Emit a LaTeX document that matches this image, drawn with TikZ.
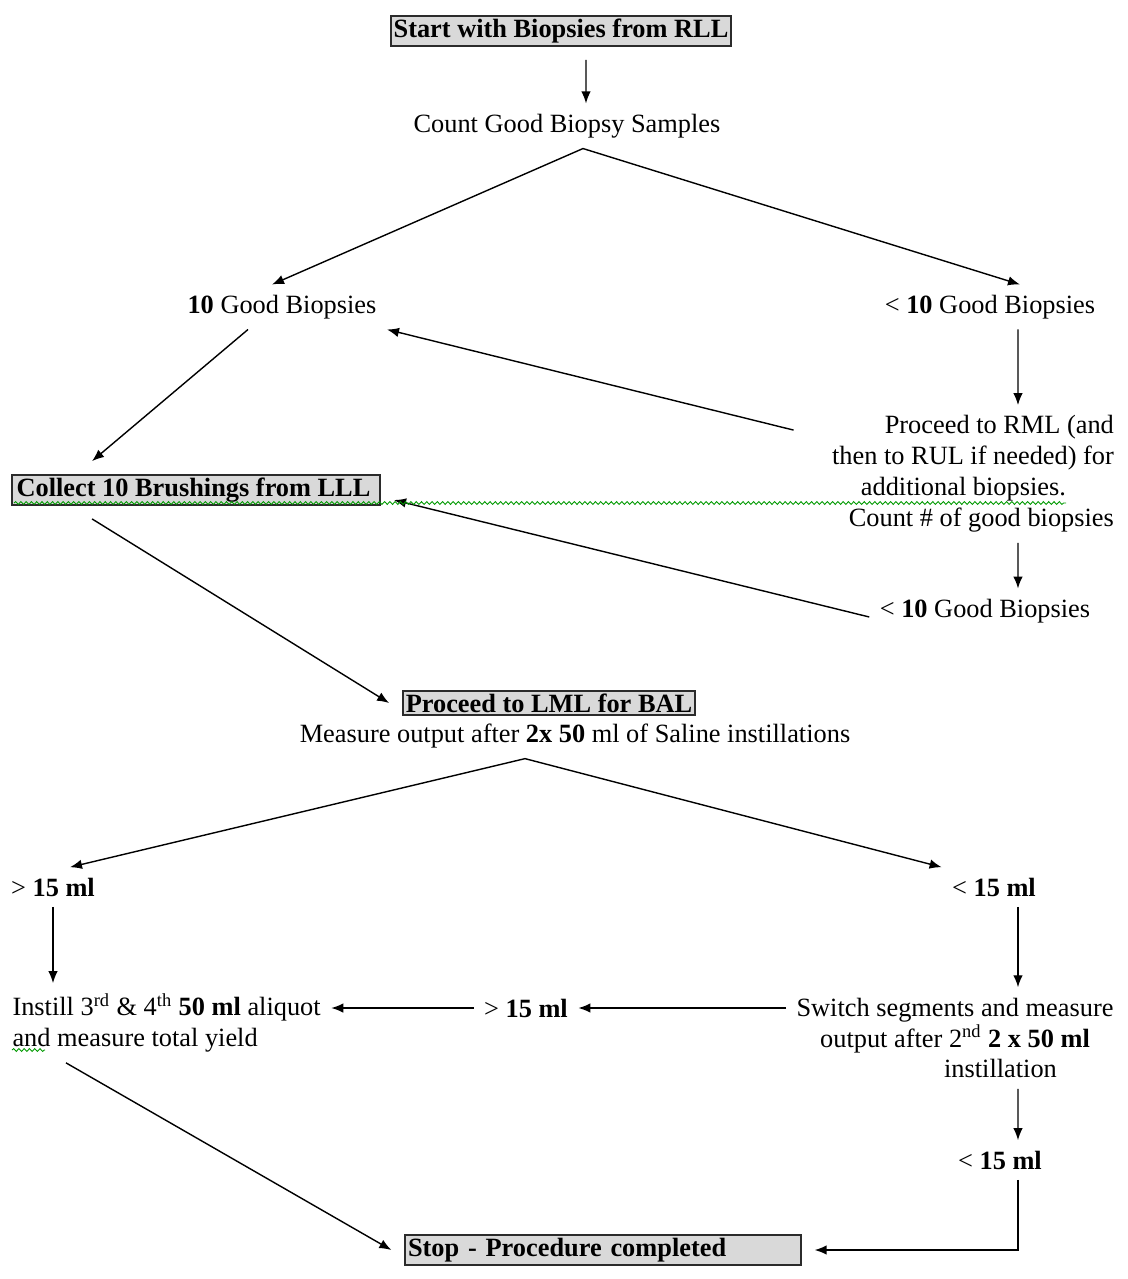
\documentclass[tikz,border=0pt]{standalone}
\usepackage{fontspec}
\setmainfont{Liberation Serif}
\usetikzlibrary{arrows.meta, decorations.pathmorphing}
\definecolor{boxgray}{HTML}{D9D9D9}
\definecolor{boxline}{HTML}{2B2B2B}
\newcommand{\fsize}{\fontsize{15}{17.6}\selectfont}
\tikzset{
    box/.style = {draw = boxline, line width = 1.2pt, fill = boxgray, inner sep = 1.5pt, outer sep = 8pt, font = \fsize\bfseries},
    txt/.style = {inner sep = 0pt, outer sep = 6pt},
    spell/.style = {draw = green!60!black, line width = 0.5pt, decorate, decoration = {snake, segment length = 3pt, amplitude = 0.8pt}}
}
\begin{document}
\begin{tikzpicture}[x = 0.02cm, y = -0.02cm, >={Latex[length = 0.24cm, width = 0.19cm]}, line width = 0.8pt, font = \fsize]
            \useasboundingbox (0, 0) rectangle (1127, 1279);
            \node (start) [box] at (561, 31) {Start with Biopsies from RLL};
            \node (count) [txt] at (567, 126) {Count Good Biopsy Samples};
            \node (good) [txt] at (282, 307) {\textbf{10} Good Biopsies};
            \node (less) [txt] at (990, 307) {< \textbf{10} Good Biopsies};
            \node (rml) [txt, align = right] at (973, 474) {Proceed to RML (and\\then to RUL if needed) for\\additional biopsies.\rule{0.96cm}{0pt}\\Count \# of good biopsies};
            \node (less2) [txt] at (985, 611) {< \textbf{10} Good Biopsies};
            \node (collect) [box, minimum width = 7.36cm] at (196, 490) {Collect 10 Brushings from LLL\hspace*{0.1cm}};
            \node (lml) [box] at (549, 703) {Proceed to LML for BAL};
            \node (measure) [txt] at (575, 736) {Measure output after \textbf{2x 50} ml of Saline instillations};
            \node (gt15) [txt] at (53, 887) {> \textbf{15 ml}};
            \node (lt15) [txt] at (994, 887) {< \textbf{15 ml}};
            \node (instill) [txt, align = left, anchor = west] at (2, 1023) {Instill 3\textsuperscript{rd} \& 4\textsuperscript{th} \textbf{50 ml} aliquot\\and measure total yield};
            \node (switch) [txt, align = center] at (955, 1038) {Switch segments and measure\\output after 2\textsuperscript{nd} \textbf{2 x 50 ml}\\\rule{1.82cm}{0pt}instillation};
            \node (mid) [txt] at (526, 1008) {> \textbf{15 ml}};
            \node (lt15b) [txt] at (1000, 1160) {< \textbf{15 ml}};
            \node (stop) [box, text width = 7.8cm, align = left] at (603, 1250) {Stop - Procedure completed};
            \draw [->] ([xshift = 0.5cm]start.south) -- ([xshift = 0.38cm]count.north);
            \draw [->] ([xshift = 0.32cm]count.south) -- ([xshift = -0.2cm]good.north);
            \draw [->] ([xshift = 0.32cm]count.south) -- ([xshift = 0.6cm]less.north);
            \draw [->] ([xshift = 0.56cm]less.south) -- ([xshift = 0.9cm]rml.north);
            \draw [->] ([xshift = -0.56cm, yshift = -0.5cm]rml.north west) -- (good.south east);
            \draw [->] ([xshift = 0.9cm]rml.south) -- ([xshift = 0.66cm]less2.north);
            \draw [->] ([yshift = -0.12cm]less2.west) -- ([yshift = -0.2cm]collect.east);
            \draw [->] ([xshift = -0.68cm]good.south) -- ([xshift = -2.08cm]collect.north);
            \draw [->] ([xshift = -2.08cm]collect.south) -- (lml.west);
            \draw [->] ([xshift = -1cm]measure.south) -- ([xshift = 0.34cm]gt15.north);
            \draw [->] ([xshift = -1cm]measure.south) -- (lt15.north west);
            \draw [->] (gt15.south) -- (gt15.south |- instill.north);
            \draw [->] ([xshift = 0.48cm]lt15.south) -- ([xshift = 0.48cm]lt15.south |- switch.north);
            \draw [->] (switch.west |- mid) -- (mid.east);
            \draw [->] (mid.west) -- (instill.east |- mid);
            \draw [->] ([xshift = 1.26cm]switch.south) -- ([xshift = 0.36cm]lt15b.north);
            \draw [->] ([xshift = 0.36cm]lt15b.south) |- (stop.east);
            \draw [->] ([xshift = 1.28cm]instill.south west) -- (stop.west);
            \draw [spell] (14, 503) -- (1066, 503);
            \draw [spell] (12, 1050) -- (45, 1050);
        \end{tikzpicture}
\end{document}
